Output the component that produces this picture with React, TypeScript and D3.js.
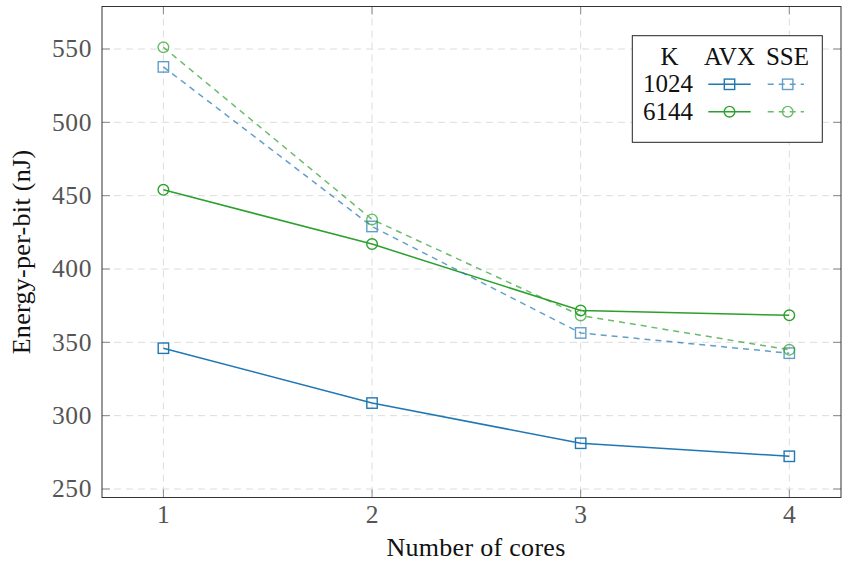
import React from "react";
import * as d3 from "d3";

const cores = [1, 2, 3, 4];
const avx1024 = [346, 308.6, 281.2, 272.3];
const avx6144 = [454, 417, 371.7, 368.4];
const sse1024 = [537.8, 429, 356.4, 342.6];
const sse6144 = [551.2, 433.8, 368.3, 344.9];
const yTicks = [250, 300, 350, 400, 450, 500, 550];
const xTicks = [1, 2, 3, 4];
const legendKs = ["1024", "6144"];

const W = 842;
const H = 563;
const left = 102;
const right = 841;
const top = 6.5;
const bottom = 497.5;

const BLUE = "#1f77b4";
const GREEN = "#2ca02c";
const FONT = "Liberation Serif, DejaVu Serif";

export default function App() {
  const x = d3.scaleLinear().domain([1, 4]).range([163.4, 789.3]);
  const y = d3.scaleLinear().domain([250, 550]).range([489, 49]);
  const line = d3
    .line<number>()
    .x((_, i) => x(cores[i]))
    .y((d) => y(d));

  const series = [
    { data: avx1024, color: BLUE, dash: null, marker: "sq", op: 1 },
    { data: avx6144, color: GREEN, dash: null, marker: "ci", op: 1 },
    { data: sse1024, color: BLUE, dash: "6,5", marker: "sq", op: 0.7 },
    { data: sse6144, color: GREEN, dash: "6,5", marker: "ci", op: 0.7 },
  ];

  const marker = (kind: string, cx: number, cy: number, color: string, key: any) =>
    kind === "sq" ? (
      <rect key={key} x={cx - 5.2} y={cy - 5.2} width={10.4} height={10.4} fill="none" stroke={color} strokeWidth={1.4} />
    ) : (
      <circle key={key} cx={cx} cy={cy} r={5.3} fill="none" stroke={color} strokeWidth={1.4} />
    );

  const ts = { fontFamily: FONT };

  return (
    <svg width={W} height={H} style={{ position: "absolute", left: 0, top: 0, background: "#fff", fontFamily: FONT }}>
      <rect x={0} y={0} width={W} height={H} fill="#fff" />
      <g stroke="#dcdcdc" strokeWidth={1} strokeDasharray="7,5">
        {yTicks.map((t) => (
          <line key={"gy" + t} x1={left} x2={right} y1={y(t)} y2={y(t)} />
        ))}
        {xTicks.map((t) => (
          <line key={"gx" + t} x1={x(t)} x2={x(t)} y1={top} y2={bottom} />
        ))}
      </g>
      <g stroke="#8a8a8a" strokeWidth={1}>
        {yTicks.map((t) => (
          <g key={"ty" + t}>
            <line x1={left} x2={left + 8} y1={y(t)} y2={y(t)} />
            <line x1={right - 8} x2={right} y1={y(t)} y2={y(t)} />
          </g>
        ))}
        {xTicks.map((t) => (
          <g key={"tx" + t}>
            <line x1={x(t)} x2={x(t)} y1={bottom - 8} y2={bottom} />
            <line x1={x(t)} x2={x(t)} y1={top} y2={top + 8} />
          </g>
        ))}
      </g>
      {series.map((s, si) => (
        <g key={"s" + si} opacity={s.op}>
          <path d={line(s.data) || ""} fill="none" stroke={s.color} strokeWidth={1.5} strokeDasharray={s.dash || undefined} />
          {s.data.map((v, i) => marker(s.marker, x(cores[i]), y(v), s.color, i))}
        </g>
      ))}
      <rect x={left} y={top} width={right - left} height={bottom - top} fill="none" stroke="#333" strokeWidth={1} />
      <g fill="#555" fontSize={25.5}>
        {yTicks.map((t) => (
          <text key={"ly" + t} x={92} y={y(t)} dy="0.33em" textAnchor="end" style={{ ...ts, letterSpacing: "0.6px" }}>
            {t}
          </text>
        ))}
        {xTicks.map((t) => (
          <text key={"lx" + t} x={x(t)} y={522.5} textAnchor="middle" style={ts}>
            {t}
          </text>
        ))}
      </g>
      <text x={476} y={556} textAnchor="middle" fontSize={26} fill="#111" style={{ ...ts, letterSpacing: "0.3px" }}>
        Number of cores
      </text>
      <text transform={`translate(30,${(top + bottom) / 2}) rotate(-90)`} textAnchor="middle" fontSize={26} fill="#111" style={{ ...ts, letterSpacing: "0.3px" }}>
        Energy-per-bit (nJ)
      </text>
      <g>
        <rect x={632.3} y={35.7} width={190} height={106.6} fill="#fff" stroke="#222" strokeWidth={1} />
        <g fontSize={25} fill="#111">
          <text x={669.5} y={64.5} textAnchor="middle" style={ts}>K</text>
          <text x={729.5} y={64.5} textAnchor="middle" style={ts}>AVX</text>
          <text x={787.5} y={64.5} textAnchor="middle" style={ts}>SSE</text>
          {legendKs.map((k, i) => (
            <text key={k} x={693} y={[92.3, 120][i]} textAnchor="end" style={ts}>
              {k}
            </text>
          ))}
        </g>
        {[
          { color: BLUE, m: "sq", yy: 84.3 },
          { color: GREEN, m: "ci", yy: 111.7 },
        ].map((r, i) => (
          <g key={"lg" + i}>
            <line x1={708.3} x2={750.7} y1={r.yy} y2={r.yy} stroke={r.color} strokeWidth={1.5} />
            {marker(r.m, 729.5, r.yy, r.color, "a")}
            <g opacity={0.7}>
              <line x1={766.7} x2={804} y1={r.yy} y2={r.yy} stroke={r.color} strokeWidth={1.5} strokeDasharray="6,5" strokeDashoffset={-1} />
              {marker(r.m, 787.7, r.yy, r.color, "b")}
            </g>
          </g>
        ))}
      </g>
    </svg>
  );
}
